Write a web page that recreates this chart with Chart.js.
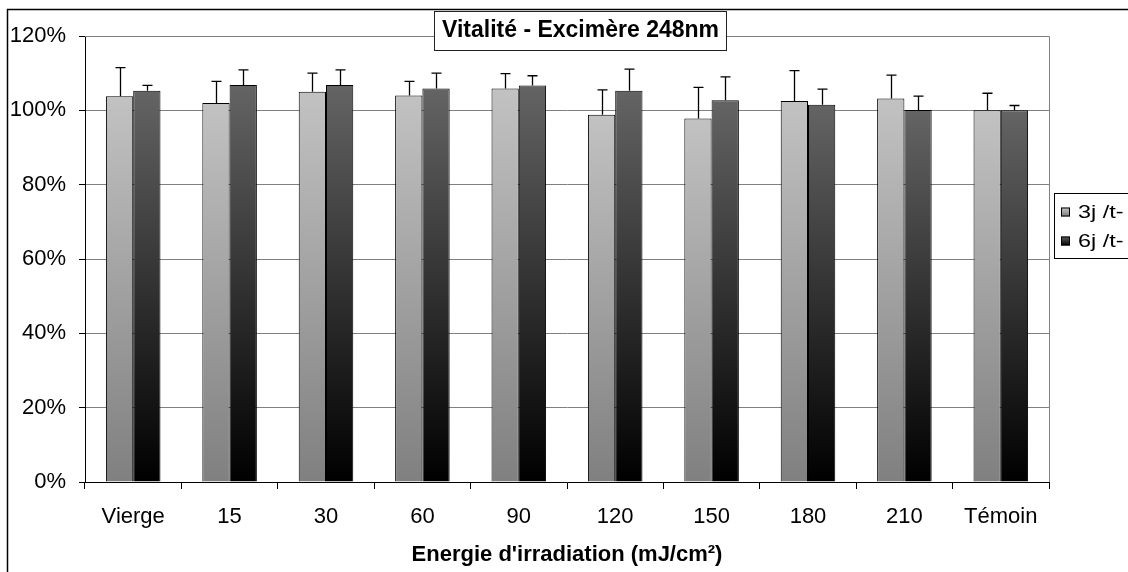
<!DOCTYPE html>
<html>
<head>
<meta charset="utf-8">
<title>Vitalité - Excimère 248nm</title>
<script src="https://cdn.jsdelivr.net/npm/chart.js@4"></script>
<style>
  html, body { margin: 0; padding: 0; background: #fff; }
  #wrap { width: 1128px; height: 572px; position: relative; }
</style>
</head>
<body>
<div id="wrap"><canvas id="chart"></canvas></div>
<script>
// Data (percent)
const categories = ['Vierge', '15', '30', '60', '90', '120', '150', '180', '210', 'Témoin'];
const seriesNames = ['3j /t-', '6j /t-'];
const values3j = [103.8, 102.0, 105.0, 104.0, 105.9, 98.8, 97.8, 102.5, 103.2, 100.0];
const values6j = [105.3, 106.8, 106.8, 105.9, 106.7, 105.3, 102.7, 101.5, 100.1, 100.0];
const errors3j = [7.7, 5.8, 5.0, 3.8, 4.0, 6.7, 8.4, 8.2, 6.3, 4.6];
const errors6j = [1.4, 4.1, 4.1, 4.1, 2.6, 5.8, 6.3, 4.2, 3.7, 1.3];
const yTicks = [0, 20, 40, 60, 80, 100, 120];

const FONT = "'Liberation Sans', Arial, sans-serif";

// vertical gradient for one bar, from its top down to the axis
function barGradient(ctx, top, bottom) {
    const chart = ctx.chart;
    if (!chart.chartArea) return top;
    const y = chart.scales.y;
    const raw = ctx.raw == null ? 100 : ctx.raw;
    const g = chart.ctx.createLinearGradient(0, y.getPixelForValue(raw), 0, y.getPixelForValue(0));
    g.addColorStop(0, top);
    g.addColorStop(1, bottom);
    return g;
}

// upward-only error bars with a cap
const errorBars = {
    id: 'errorBars',
    afterDatasetsDraw(chart) {
        const { ctx } = chart;
        const y = chart.scales.y;
        const errs = [errors3j, errors6j];
        ctx.save();
        ctx.strokeStyle = '#000';
        ctx.lineWidth = 1.3;
        chart.data.datasets.forEach((ds, di) => {
            const meta = chart.getDatasetMeta(di);
            meta.data.forEach((bar, i) => {
                const x = Math.round(bar.x) + 0.5;
                const yTop = y.getPixelForValue(ds.data[i] + errs[di][i]);
                ctx.beginPath();
                ctx.moveTo(x, bar.y);
                ctx.lineTo(x, yTop);
                ctx.moveTo(x - 5, yTop);
                ctx.lineTo(x + 5, yTop);
                ctx.stroke();
            });
        });
        ctx.restore();
    }
};

// plot frame, outer border, boxed title and boxed legend
const decorations = {
    id: 'decorations',
    beforeDatasetsDraw(chart) {
        const { ctx, chartArea: a } = chart;
        ctx.save();
        ctx.strokeStyle = '#808080';
        ctx.lineWidth = 1;
        ctx.beginPath();
        ctx.moveTo(a.left, Math.round(a.top) + 0.5);
        ctx.lineTo(Math.round(a.right) + 0.5, Math.round(a.top) + 0.5);
        ctx.lineTo(Math.round(a.right) + 0.5, a.bottom);
        ctx.stroke();
        ctx.restore();
    },
    afterDraw(chart) {
        const { ctx } = chart;
        ctx.save();
        // outer chart border (right/bottom fall outside the picture)
        ctx.strokeStyle = '#000';
        ctx.lineWidth = 1.5;
        ctx.strokeRect(7.5, 9.5, 1300, 700);

        // title box
        ctx.fillStyle = '#fff';
        ctx.fillRect(434, 11, 293, 39);
        ctx.lineWidth = 1;
        ctx.strokeStyle = '#222';
        ctx.strokeRect(434.5, 11.5, 292, 39);
        ctx.fillStyle = '#000';
        ctx.font = 'bold 23px ' + FONT;
        ctx.textAlign = 'center';
        ctx.textBaseline = 'middle';
        ctx.fillText('Vitalité - Excimère 248nm', 580.5, 31);

        // legend box
        ctx.fillStyle = '#fff';
        ctx.fillRect(1054, 193, 100, 65);
        ctx.strokeStyle = '#000';
        ctx.strokeRect(1054.5, 193.5, 100, 65);
        const swatches = [['#c8c8c8', '#7a7a7a'], ['#606060', '#000000']];
        const rowY = [212, 241];
        ctx.font = '18px ' + FONT;
        ctx.textAlign = 'left';
        seriesNames.forEach((name, i) => {
            const top = rowY[i] - 4.5;
            const g = ctx.createLinearGradient(0, top, 0, top + 9);
            g.addColorStop(0, swatches[i][0]);
            g.addColorStop(1, swatches[i][1]);
            ctx.fillStyle = g;
            ctx.fillRect(1061, top, 9, 9);
            ctx.strokeStyle = '#000';
            ctx.strokeRect(1061.5, top + 0.5, 8, 8);
            // the legend text in the original is drawn wide
            ctx.save();
            ctx.translate(1078, rowY[i] + 1);
            ctx.scale(1.3, 1);
            ctx.fillStyle = '#000';
            ctx.fillText(name, 0, 0);
            ctx.restore();
        });
        ctx.restore();
    }
};

new Chart(document.getElementById('chart'), {
    type: 'bar',
    data: {
        labels: categories,
        datasets: [
            {
                label: seriesNames[0],
                data: values3j,
                backgroundColor: (c) => barGradient(c, '#c2c2c2', '#808080'),
                borderColor: '#000',
                borderWidth: 1,
                borderSkipped: 'start'
            },
            {
                label: seriesNames[1],
                data: values6j,
                backgroundColor: (c) => barGradient(c, '#646464', '#000000'),
                borderColor: '#000',
                borderWidth: 1,
                borderSkipped: 'start'
            }
        ]
    },
    options: {
        responsive: true,
        maintainAspectRatio: false,
        animation: false,
        categoryPercentage: 0.566,
        barPercentage: 1.0,
        layout: { padding: { left: 0, top: 36, right: 79, bottom: 0 } },
        plugins: {
            legend: { display: false },
            title: { display: false },
            tooltip: { enabled: false }
        },
        scales: {
            x: {
                grid: {
                    offset: true,
                    drawOnChartArea: false,
                    drawTicks: true,
                    tickLength: 7,
                    tickColor: '#000'
                },
                border: { color: '#000', width: 1 },
                ticks: {
                    color: '#000',
                    padding: 15,
                    maxRotation: 0,
                    font: { family: FONT, size: 22 }
                },
                title: {
                    display: true,
                    text: "Energie d'irradiation (mJ/cm²)",
                    color: '#000',
                    font: { family: FONT, size: 22, weight: 'bold' },
                    padding: { top: 0, bottom: 4 }
                },
                afterFit(scale) { scale.height = 90; }
            },
            y: {
                min: 0,
                max: 120,
                afterBuildTicks(scale) { scale.ticks = yTicks.map(v => ({ value: v })); },
                grid: {
                    color: '#808080',
                    tickColor: '#000',
                    tickLength: 6
                },
                border: { color: '#000', width: 1 },
                ticks: {
                    color: '#000',
                    padding: 13,
                    font: { family: FONT, size: 22 },
                    callback: (v) => v + '%'
                },
                afterFit(scale) { scale.width = 85; }
            }
        }
    },
    plugins: [errorBars, decorations]
});
</script>
</body>
</html>
